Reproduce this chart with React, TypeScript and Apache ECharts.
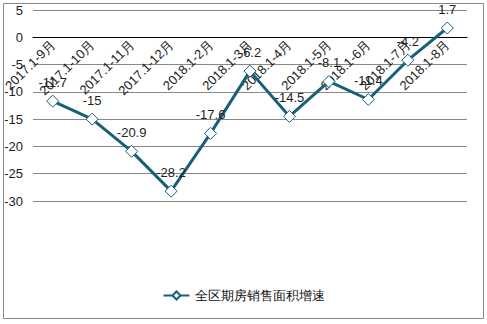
import React, { useEffect, useRef } from "react";
import * as echarts from "echarts";

const categories = [
  "2017.1-9月",
  "2017.1-10月",
  "2017.1-11月",
  "2017.1-12月",
  "2018.1-2月",
  "2018.1-3月",
  "2018.1-4月",
  "2018.1-5月",
  "2018.1-6月",
  "2018.1-7月",
  "2018.1-8月",
];
const growth = [-11.7, -15, -20.9, -28.2, -17.6, -6.2, -14.5, -8.1, -11.4, -4.2, 1.7];
const seriesName = "全区期房销售面积增速";
const yMin = -30;
const yMax = 5;

export default function App() {
  const ref = useRef<HTMLDivElement>(null);
  useEffect(() => {
    if (!ref.current) return;
    const chart = echarts.init(ref.current, undefined, { renderer: "svg" });
    const font = "'Liberation Sans', Arial, sans-serif";
    const gridTop = 10;
    const gridBottom = 123;
    const gridH = 324 - gridTop - gridBottom;
    const zeroFromBottom = ((0 - yMin) / (yMax - yMin)) * gridH;
    chart.setOption({
      animation: false,
      backgroundColor: "#fff",
      textStyle: { fontFamily: font },
      graphic: [
        {
          type: "rect",
          shape: { x: 3.5, y: 3.5, width: 480, height: 315 },
          style: { fill: "none", stroke: "#888", lineWidth: 1 },
          silent: true,
        },
      ],
      grid: { left: 33, right: 20, top: gridTop, bottom: gridBottom },
      legend: {
        bottom: 17,
        left: "center",
        itemWidth: 26,
        itemHeight: 10,
        textStyle: { fontSize: 13, color: "#111", fontFamily: font },
        data: [seriesName],
      },
      xAxis: {
        type: "category",
        data: categories,
        boundaryGap: true,
        position: "bottom",
        offset: -zeroFromBottom,
        axisLine: { onZero: false, lineStyle: { color: "#000", width: 1 } },
        axisTick: { show: false },
        axisLabel: {
          rotate: 45,
          interval: 0,
          fontSize: 13,
          color: "#222",
          margin: 5,
          fontFamily: font,
        },
      },
      yAxis: {
        type: "value",
        min: yMin,
        max: yMax,
        interval: 5,
        axisLine: { show: false },
        axisTick: { show: false },
        axisLabel: { fontSize: 13, color: "#222", margin: 10, fontFamily: font },
        splitLine: { lineStyle: { color: "#888", width: 1 } },
      },
      series: [
        {
          name: seriesName,
          type: "line",
          data: growth,
          symbol: "diamond",
          symbolSize: 12,
          lineStyle: { color: "#17607A", width: 3 },
          itemStyle: { color: "#fff", borderColor: "#17607A", borderWidth: 1 },
          label: {
            show: true,
            position: "top",
            distance: 6,
            fontSize: 13,
            color: "#222",
            fontFamily: font,
          },
          z: 3,
        },
      ],
    });
    return () => chart.dispose();
  }, []);
  return (
    <div
      ref={ref}
      style={{ position: "fixed", left: 0, top: 0, width: 487, height: 324 }}
    />
  );
}
